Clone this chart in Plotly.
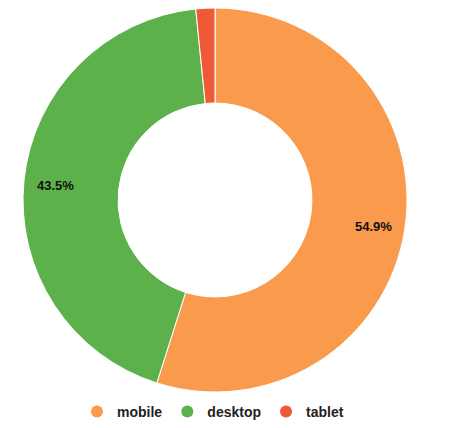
import math
import plotly.graph_objects as go

# Traffic share by device type
devices = ["mobile", "desktop", "tablet"]
shares = [54.9, 43.5, 1.6]
colors = ["#FA9A4C", "#5DB14B", "#EE5A35"]
show_label = [True, True, False]

W, H = 454, 428

# Pie placement (pixels): centre and outer radius
CX, CY, R = 215, 200, 192
HOLE = 0.505
LABEL_R = 0.835  # label distance from centre, as a fraction of the outer radius

fig = go.Figure()

fig.add_trace(go.Pie(
    labels=devices,
    values=shares,
    sort=False,
    direction="clockwise",
    rotation=0,
    hole=HOLE,
    marker=dict(colors=colors, line=dict(color="#FFFFFF", width=1)),
    textinfo="none",
    showlegend=False,
    hoverinfo="label+percent",
    domain=dict(
        x=[(CX - R) / W, (CX + R) / W],
        y=[1 - (CY + R) / H, 1 - (CY - R) / H],
    ),
))

# Percentage labels near the outer rim of each slice
total = sum(shares)
start = 0.0
for share, show in zip(shares, show_label):
    frac = share / total
    mid = (start + frac / 2) * 2 * math.pi  # clockwise from 12 o'clock
    start += frac
    if not show:
        continue
    px = CX + LABEL_R * R * math.sin(mid)
    py = CY - LABEL_R * R * math.cos(mid)
    fig.add_annotation(
        x=px / W, y=1 - py / H, xref="paper", yref="paper",
        text=f"{frac * 100:.1f}%", showarrow=False,
        xanchor="center", yanchor="middle", yshift=-2,
        font=dict(family="Liberation Sans", size=13, color="#111111", weight="bold"),
    )

# Legend entries with round markers
for name, col in zip(devices, colors):
    fig.add_trace(go.Scatter(
        x=[None], y=[None], mode="markers", name=name,
        marker=dict(symbol="circle", size=13, color=col),
        showlegend=True, hoverinfo="skip",
    ))

fig.update_layout(
    width=W, height=H,
    margin=dict(l=0, r=0, t=0, b=0),
    paper_bgcolor="#FFFFFF",
    plot_bgcolor="#FFFFFF",
    xaxis=dict(visible=False),
    yaxis=dict(visible=False),
    showlegend=True,
    legend=dict(
        orientation="h",
        x=213 / W, xanchor="center",
        y=0, yanchor="bottom",
        font=dict(family="Liberation Sans", size=14, color="#222222", weight="bold"),
        itemsizing="constant",
        bgcolor="rgba(0,0,0,0)",
    ),
)

fig.write_html("out.html")
